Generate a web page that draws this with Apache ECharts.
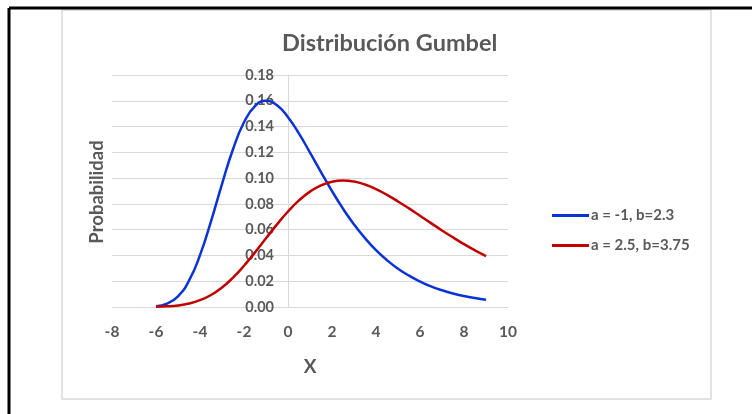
<!DOCTYPE html>
<html>
<head>
<meta charset="utf-8">
<script src="https://cdn.jsdelivr.net/npm/echarts@6/dist/echarts.min.js"></script>
<style>
html,body{margin:0;padding:0;background:#fff;}
#chart{width:752px;height:414px;}
</style>
</head>
<body>
<div id="chart"></div>
<script>
var xValues = [-6,-5.5,-5,-4.5,-4,-3.5,-3,-2.5,-2,-1.5,-1,-0.5,0,0.5,1,1.5,2,2.5,3,3.5,4,4.5,5,5.5,6,6.5,7,7.5,8,8.5,9];
var blueValues = [0.0006,0.0026,0.0083,0.0204,0.0402,0.0665,0.0954,0.1224,0.1433,0.1559,0.1600,0.1565,0.1473,0.1345,0.1198,0.1047,0.0899,0.0763,0.0641,0.0534,0.0441,0.0363,0.0297,0.0243,0.0198,0.0160,0.0130,0.0105,0.0085,0.0069,0.0056];
var redValues = [0.0002,0.0005,0.0012,0.0027,0.0053,0.0093,0.0151,0.0228,0.0320,0.0424,0.0533,0.0641,0.0741,0.0827,0.0895,0.0944,0.0972,0.0981,0.0973,0.0950,0.0914,0.0870,0.0819,0.0765,0.0708,0.0651,0.0594,0.0540,0.0488,0.0440,0.0395];
var seriesNames = ['a = -1, b=2.3', 'a = 2.5, b=3.75'];
var chartTitle = 'Distribución Gumbel';
var xTitle = 'X';
var yTitle = 'Probabilidad';

function pairs(xs, ys){ return xs.map(function(x,i){ return [x, ys[i]]; }); }

var font = 'Lato, "Open Sans", sans-serif';
var gridLeft = 112, gridRight = 244, xMin = -8, xMax = 10;
var plotW = 752 - gridLeft - gridRight;
var yAxisOffset = -Math.round((0 - xMin) / (xMax - xMin) * plotW);

var chart = echarts.init(document.getElementById('chart'));
chart.setOption({
  animation: false,
  backgroundColor: '#fff',
  title: {
    text: chartTitle,
    left: 277, top: 26,
    textStyle: {color: '#595959', fontFamily: font, fontWeight: 'bold', fontSize: 23.5}
  },
  grid: {left: gridLeft, right: gridRight, top: 75, bottom: 107},
  legend: {
    orient: 'vertical', left: 547, top: 203,
    itemWidth: 37, itemHeight: 3, itemGap: 15,
    icon: 'rect',
    textStyle: {color: '#595959', fontFamily: font, fontWeight: 'bold', fontSize: 15, padding: [0,0,0,-3]},
    data: seriesNames
  },
  xAxis: {
    type: 'value', min: xMin, max: xMax, interval: 2,
    name: xTitle, nameLocation: 'middle', nameGap: 50,
    nameTextStyle: {color: '#595959', fontFamily: font, fontWeight: 'bold', fontSize: 19},
    axisLine: {show: true, lineStyle: {color: '#d9d9d9', width: 1}},
    axisTick: {show: false},
    splitLine: {show: false},
    axisLabel: {color: '#595959', fontFamily: font, fontWeight: 'bold', fontSize: 15.5, margin: 17}
  },
  yAxis: {
    type: 'value', min: 0, max: 0.18, interval: 0.02,
    offset: yAxisOffset,
    axisLine: {show: true, onZero: false, lineStyle: {color: '#d9d9d9', width: 1}},
    axisTick: {show: false},
    splitLine: {show: true, lineStyle: {color: '#d9d9d9', width: 1}},
    axisLabel: {color: '#595959', fontFamily: font, fontWeight: 'bold', fontSize: 14.5, margin: 14,
      formatter: function(v){ return v.toFixed(2); }}
  },
  graphic: [
    {type: 'rect', shape: {x: 62, y: 10, width: 649, height: 389}, style: {fill: 'none', stroke: '#d9d9d9', lineWidth: 1.5}, silent: true},
    {type: 'line', shape: {x1: 9, y1: 8, x2: 752, y2: 8}, style: {stroke: '#000', lineWidth: 3}, silent: true},
    {type: 'line', shape: {x1: 9, y1: 8, x2: 9, y2: 414}, style: {stroke: '#000', lineWidth: 3}, silent: true},
    {type: 'text', x: 97, y: 192, rotation: Math.PI/2,
      style: {text: yTitle, fill: '#595959', font: 'bold 18.5px ' + font, textAlign: 'center', textVerticalAlign: 'middle'}}
  ],
  series: [
    {name: seriesNames[0], type: 'line', smooth: true, showSymbol: false,
      data: pairs(xValues, blueValues), lineStyle: {color: '#0a33d6', width: 2.5}, itemStyle: {color: '#0a33d6'}},
    {name: seriesNames[1], type: 'line', smooth: true, showSymbol: false,
      data: pairs(xValues, redValues), lineStyle: {color: '#c00000', width: 2.5}, itemStyle: {color: '#c00000'}}
  ]
});
</script>
</body>
</html>
